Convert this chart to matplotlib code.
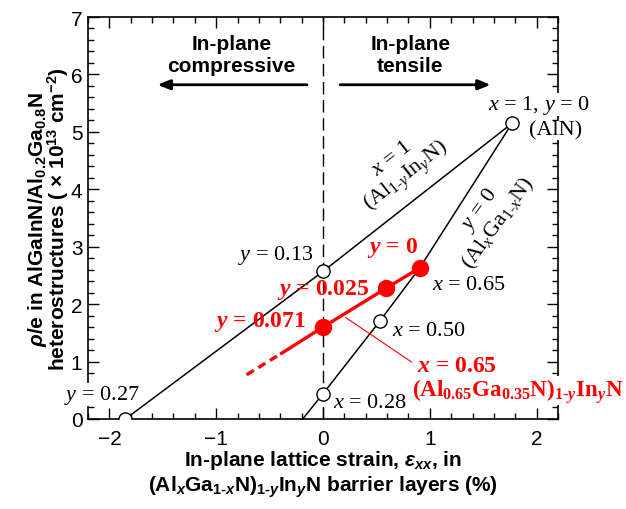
import matplotlib
matplotlib.use('Agg')
import matplotlib.pyplot as plt
from matplotlib.ticker import MultipleLocator

plt.rcParams['font.family'] = 'Liberation Sans'
plt.rcParams['mathtext.fontset'] = 'custom'
plt.rcParams['mathtext.rm'] = 'Liberation Serif'
plt.rcParams['mathtext.it'] = 'Liberation Serif:italic'
plt.rcParams['mathtext.bf'] = 'Liberation Serif:bold'
plt.rcParams['mathtext.bfit'] = 'Liberation Serif:bold:italic'
plt.rcParams['mathtext.sf'] = 'Liberation Sans:bold:italic'
plt.rcParams['mathtext.tt'] = 'Liberation Sans:bold'
plt.rcParams['mathtext.cal'] = 'Liberation Sans'

# strain in %, sheet charge in 1e13 cm^-2
# x = 1 branch: Al(1-y)In(y)N, points at y = 0.27, 0.13, 0
alinn_strain = [-1.85, 0.0, 1.77]
alinn_charge = [0.0, 2.57, 5.15]

# y = 0 branch: Al(x)Ga(1-x)N, from the bottom edge through x = 0.28, 0.50, 0.65, 1
algan_strain = [-0.19, 0.0, 0.53, 0.905, 1.77]
algan_charge = [0.0, 0.44, 1.70, 2.63, 5.15]

# open markers
open_strain = [-1.85, 0.0, 1.77, 0.0, 0.53]
open_charge = [0.0, 2.57, 5.15, 0.44, 1.70]

# x = 0.65 quaternary: y = 0.071, 0.025, 0
quat_strain = [0.0, 0.593, 0.905]
quat_charge = [1.60, 2.28, 2.63]
# extension toward larger In content
ext_strain = [-0.40, 0.0]
ext_charge = [1.13, 1.60]
dash_strain = [-0.715, -0.40]
dash_charge = [0.77, 1.13]

RED = '#ff0000'
SERIF = 'Liberation Serif'
HY = '\u2010'  # short hyphen inside subscripts

fig = plt.figure(figsize=(6.26, 5.10), dpi=100)
ax = fig.add_axes([0.1406, 0.1765, 0.7508, 0.7882])

ax.axvline(0, color='black', lw=1.0, linestyle=(0, (9, 4)), zorder=1)

ax.plot(alinn_strain, alinn_charge, color='black', lw=1.1, zorder=2)
ax.plot(algan_strain, algan_charge, color='black', lw=1.1, zorder=2)
ax.plot(ext_strain + quat_strain, ext_charge + quat_charge, color=RED, lw=2.4,
        zorder=3, solid_capstyle='butt')
ax.plot(dash_strain, dash_charge, color=RED, lw=2.4, linestyle=(0, (2.5, 1.6)),
        zorder=3)
ax.plot(open_strain, open_charge, linestyle='none', marker='o', ms=9.5,
        mfc='white', mec='black', mew=1.0, zorder=4)
ax.plot(quat_strain, quat_charge, linestyle='none', marker='o', ms=11.5,
        mfc=RED, mec=RED, zorder=5)

ax.set_xlim(-2.2, 2.2)
ax.set_ylim(0, 7)
ax.xaxis.set_major_locator(MultipleLocator(1))
ax.xaxis.set_minor_locator(MultipleLocator(0.2))
ax.yaxis.set_major_locator(MultipleLocator(1))
ax.yaxis.set_minor_locator(MultipleLocator(0.2))
ax.tick_params(which='both', direction='in', top=True, right=True, width=1.0,
               labelsize=15)
ax.tick_params(which='major', length=8)
ax.tick_params(which='minor', length=4.5)
ax.tick_params(axis='x', pad=7)
ax.tick_params(axis='y', pad=4)
for sp in ax.spines.values():
    sp.set_linewidth(1.2)

ax.set_xlabel('In-plane lattice strain, $\\mathsf{\u03b5}_{\\mathsf{xx}}$, in\n'
              '(Al$_{\\mathsf{x}}$Ga$_{\\mathtt{1' + HY + '}\\mathsf{x}}$N)'
              '$_{\\mathtt{1' + HY + '}\\mathsf{y}}$In$_{\\mathsf{y}}$N barrier layers (%)',
              fontsize=15, fontweight='bold', labelpad=0)
ax.set_ylabel('$\\mathsf{\u03c1}$/e in AlGaInN/Al$_{\\mathtt{0.2}}$Ga$_{\\mathtt{0.8}}$N\n'
              'heterostructures ( \u00d7 10$^{\\mathtt{13}}$ cm$^{\\mathtt{-2}}$)',
              fontsize=15, fontweight='bold', labelpad=0, linespacing=0.8)

# strain direction arrows
ax.text(-0.855, 6.34, 'In-plane\ncompressive', ha='center', va='center',
        fontsize=15, fontweight='bold')
ax.text(0.818, 6.34, 'In-plane\ntensile', ha='center', va='center',
        fontsize=15, fontweight='bold')
arrow = dict(arrowstyle='-|>,head_length=0.5,head_width=0.2', lw=2.0,
             color='black', mutation_scale=15, shrinkA=0, shrinkB=0)
ax.annotate('', xy=(-1.55, 5.82), xytext=(-0.15, 5.82), arrowprops=arrow)
ax.annotate('', xy=(1.57, 5.82), xytext=(0.16, 5.82), arrowprops=arrow)

white = dict(facecolor='white', edgecolor='none', pad=0)

# black labels
ax.text(1.547, 5.47, '$x$ = 1, $y$ = 0', ha='left', va='center',
        fontsize=16, family=SERIF, bbox=white)
ax.text(1.93, 5.03, '(AlN)', ha='left', va='center',
        fontsize=16, family=SERIF, bbox=white)
ax.text(-0.09, 2.87, '$y$ = 0.13', ha='right', va='center', fontsize=16,
        family=SERIF)
ax.text(-2.425, 0.42, '$y$ = 0.27', ha='left', va='center', fontsize=16,
        family=SERIF, bbox=white)
ax.text(1.02, 2.35, '$x$ = 0.65', ha='left', va='center', fontsize=16,
        family=SERIF)
ax.text(0.65, 1.54, '$x$ = 0.50', ha='left', va='center', fontsize=16,
        family=SERIF)
ax.text(0.09, 0.28, '$x$ = 0.28', ha='left', va='center', fontsize=16,
        family=SERIF)
ax.text(0.724, 4.37, '$x$ = 1\n(Al$_{1' + HY + 'y}$In$_y$N)', ha='center',
        va='center', rotation=38, rotation_mode='anchor', fontsize=16,
        family=SERIF, linespacing=1.0)
ax.text(1.556, 3.54, '$y$ = 0\n(Al$_x$Ga$_{1' + HY + 'x}$N)', ha='center',
        va='center', rotation=54, rotation_mode='anchor', fontsize=16,
        family=SERIF, linespacing=1.0)

# red labels
ax.text(0.415, 3.0, '$\\mathbfit{y}$ = 0', ha='left', va='center', fontsize=17,
        family=SERIF, fontweight='bold', color=RED)
ax.text(-0.435, 2.26, '$\\mathbfit{y}$ = 0.025', ha='left', va='center',
        fontsize=17, family=SERIF, fontweight='bold', color=RED)
ax.text(-1.02, 1.71, '$\\mathbfit{y}$ = 0.071', ha='left', va='center',
        fontsize=17, family=SERIF, fontweight='bold', color=RED)
ax.text(0.883, 0.93, '$\\mathbfit{x}$ = 0.65', ha='left', va='center',
        fontsize=17, family=SERIF, fontweight='bold', color=RED)
ax.text(0.836, 0.50,
        '(Al$_{\\mathbf{0.65}}$Ga$_{\\mathbf{0.35}}$N)'
        '$_{\\mathbf{1' + HY + '}\\mathbfit{y}}$In$_{\\mathbfit{y}}$N',
        ha='left', va='center', fontsize=16.6, family=SERIF, fontweight='bold',
        color=RED, bbox=white)
ax.annotate('', xy=(0.21, 1.77), xytext=(0.83, 0.99),
            arrowprops=dict(arrowstyle='-', color=RED, lw=0.8,
                            shrinkA=0, shrinkB=0))

fig.savefig('out.png', dpi=100)
